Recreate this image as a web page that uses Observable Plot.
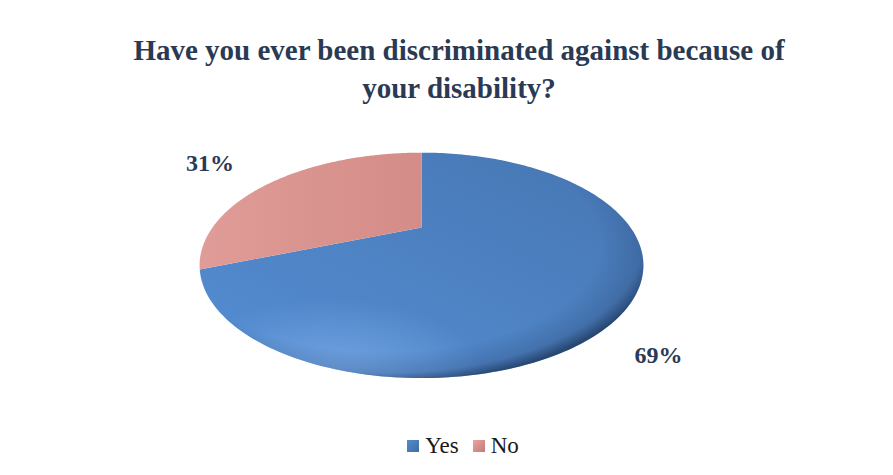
<!DOCTYPE html>
<html>
<head>
<meta charset="utf-8">
<script src="https://cdn.jsdelivr.net/npm/d3@7"></script>
<script src="https://cdn.jsdelivr.net/npm/@observablehq/plot@0.6"></script>
<style>
  html, body { margin: 0; padding: 0; background: #ffffff; }
  #wrap { position: relative; width: 893px; height: 475px; overflow: hidden; font-family: "Liberation Serif", "DejaVu Serif", serif; }
  #title { position: absolute; left: 0; width: 918px; top: 31px; text-align: center; font-weight: bold; font-size: 29px; line-height: 38px; color: #2a3a54; font-family: "Liberation Serif", serif; }
  #chart { position: absolute; left: 0; top: 0; }
  #legend { position: absolute; left: 0; width: 926px; top: 432px; text-align: center; font-size: 23px; color: #1a1a1a; }
  #legend .item { display: inline-flex; align-items: center; margin: 0 7px; }
  #legend .sw { display: inline-block; width: 12px; height: 12px; margin-right: 6px; }
</style>
</head>
<body>
<div id="wrap">
  <div id="chart"></div>
  <div id="title"></div>
  <div id="legend"></div>
</div>
<script>
const titleLines = ["Have you ever been discriminated against because of", "your disability?"];
const categories = ["Yes", "No"];
const values = [69, 31];
const valueLabels = ["69%", "31%"];
const colors = ["#4a7ebb", "#d9918d"];

// perspective tilt of the disc
const k = 0.336;
function proj(theta, r = 1) {
  const u = r * Math.sin(theta), v = -r * Math.cos(theta);
  const w = 1 - k * v;
  return {x: u / w, y: v / w};
}

const total = d3.sum(values);
let acc = 0;
const slices = categories.map((c, i) => {
  const a0 = acc / total * 2 * Math.PI;
  acc += values[i];
  const a1 = acc / total * 2 * Math.PI;
  const pts = [{x: 0, y: 0, cat: c}];
  const n = 200;
  for (let j = 0; j <= n; j++) {
    const p = proj(a0 + (a1 - a0) * j / n);
    pts.push({x: p.x, y: p.y, cat: c});
  }
  pts.push({x: 0, y: 0, cat: c});
  return {cat: c, i, a0, a1, pts};
});

const rim = d3.range(0, 361).map(d => proj(d / 360 * 2 * Math.PI));

const defs = () => {
  const g = d3.create("svg:defs");
  const blue = g.append("linearGradient").attr("id", "g0").attr("x1", 0).attr("y1", 1).attr("x2", 1).attr("y2", 0);
  blue.append("stop").attr("offset", 0).attr("stop-color", "#558ed4");
  blue.append("stop").attr("offset", 1).attr("stop-color", "#4676b2");
  const pink = g.append("linearGradient").attr("id", "g1").attr("x1", 0).attr("y1", 0).attr("x2", 1).attr("y2", 0);
  pink.append("stop").attr("offset", 0).attr("stop-color", "#e09c98");
  pink.append("stop").attr("offset", 1).attr("stop-color", "#d48c88");
  const rg = g.append("radialGradient").attr("id", "rim").attr("cx", 0.42).attr("cy", 0.40).attr("r", 0.62);
  rg.append("stop").attr("offset", 0.78).attr("stop-color", "#102040").attr("stop-opacity", 0);
  rg.append("stop").attr("offset", 0.93).attr("stop-color", "#102040").attr("stop-opacity", 0.18);
  rg.append("stop").attr("offset", 1).attr("stop-color", "#0a1830").attr("stop-opacity", 0.55);
  const hl = g.append("radialGradient").attr("id", "hl").attr("cx", 0.3).attr("cy", 1.0).attr("r", 0.35);
  hl.append("stop").attr("offset", 0).attr("stop-color", "#9cc8ff").attr("stop-opacity", 0.45);
  hl.append("stop").attr("offset", 1).attr("stop-color", "#9cc8ff").attr("stop-opacity", 0);
  return g.node();
};

const labelShift = {"Yes": [24, 59], "No": [-66, -17]};
const labelData = slices.map(s => {
  const p = proj((s.a0 + s.a1) / 2);
  return {x: p.x, y: p.y, text: valueLabels[s.i], cat: s.cat};
});

const plot = Plot.plot({
  width: 893,
  height: 475,
  marginLeft: 212,
  marginRight: 263,
  marginTop: 127,
  marginBottom: 148,
  x: {domain: [-1, 1], axis: null},
  y: {domain: [-1, 1], reverse: true, axis: null},
  style: {background: "transparent", overflow: "visible"},
  marks: [
    defs,
    ...slices.map(s => Plot.line(s.pts, {x: "x", y: "y", fill: `url(#g${s.i})`, stroke: "none", curve: "linear"})),
    Plot.line(rim, {x: "x", y: "y", fill: "url(#hl)", stroke: "none"}),
    Plot.line(rim, {x: "x", y: "y", fill: "url(#rim)", stroke: "none"}),
    ...labelData.map(d => Plot.text([d], {
      x: "x", y: "y", text: "text",
      dx: labelShift[d.cat][0], dy: labelShift[d.cat][1],
      fontSize: 24, fontWeight: "bold", fill: "#2a3a54",
      fontFamily: "Liberation Serif, DejaVu Serif, serif"
    }))
  ]
});
document.getElementById("chart").appendChild(plot);

document.getElementById("title").innerHTML = titleLines.map(t => `<div>${t}</div>`).join("");
document.getElementById("legend").innerHTML = categories.map((c, i) =>
  `<span class="item"><span class="sw" style="background:linear-gradient(135deg, ${d3.color(colors[i]).brighter(0.3)}, ${d3.color(colors[i]).darker(0.4)})"></span>${c}</span>`
).join("");
</script>
</body>
</html>
